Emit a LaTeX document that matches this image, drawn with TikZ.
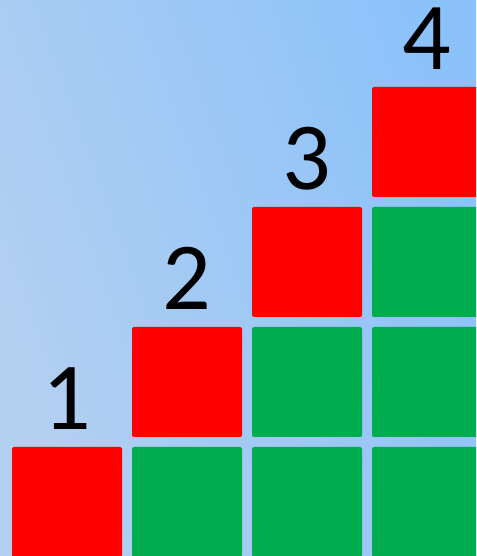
\documentclass[tikz,border=0pt]{standalone}
\usepackage{fontspec}
\setmainfont{Carlito}
\usepackage{xcolor}
\usepackage{tikz}
\usetikzlibrary{positioning}

\definecolor{bgtop}{HTML}{B3D0F0}
\definecolor{bgbottom}{HTML}{8CC2FA}
\definecolor{cellred}{HTML}{FF0000}
\definecolor{cellgreen}{HTML}{00AD4E}

\begin{document}
\begin{tikzpicture}[
    x=1pt, y=1pt,
    cell/.style={rectangle, inner sep=0pt, minimum size=110pt, rounded corners=2pt},
    topcell/.style={cell, fill=cellred},
    basecell/.style={cell, fill=cellgreen},
    numlabel/.style={inner sep=0pt, font=\fontsize{96}{96}\selectfont}
]

% Background
\useasboundingbox (0,0) rectangle (476,556);
\clip (0,0) rectangle (476,556);
\shade[left color=bgtop, right color=bgbottom, shading angle=110] (0,0) rectangle (476,556);

% Staircase of cells
\foreach \i in {1,...,4} {
    \node[topcell] (red\i) at ({67+120*(\i-1)}, {54+120*(\i-1)}) {};
    \node[numlabel, above=17pt of red\i, anchor=base] (num\i) {\i};
    \ifnum\i>1
        \foreach \j in {2,...,\i} {
            \node[basecell] (green\i-\j) at ({67+120*(\i-1)}, {54+120*(\j-2)}) {};
        }
    \fi
}

\end{tikzpicture}
\end{document}
